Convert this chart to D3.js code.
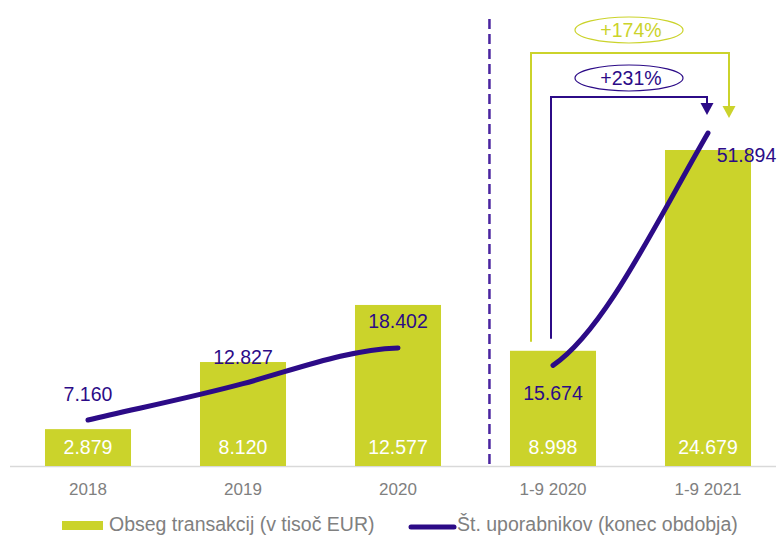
<!DOCTYPE html>
<html><head><meta charset="utf-8">
<script src="https://cdn.jsdelivr.net/npm/d3@7/dist/d3.min.js"></script>
<style>
html,body{margin:0;padding:0;background:#fff;}
svg{display:block;font-family:"Liberation Sans",Arial,sans-serif;}
</style></head>
<body>
<svg id="chart" width="778" height="536"></svg>
<script>
// ---- data ----
const categories = ["2018", "2019", "2020", "1-9 2020", "1-9 2021"];
const volume = [2879, 8120, 12577, 8998, 24679];          // Obseg transakcij (v tisoč EUR)
const users = [7160, 12827, 18402, 15674, 51894];         // Št. uporabnikov (konec obdobja)
const userSegments = [[0, 1, 2], [3, 4]];                 // the two separate line parts
const growthLabels = ["+174%", "+231%"];
const legendLabels = ["Obseg transakcij (v tisoč EUR)", "Št. uporabnikov (konec obdobja)"];
const fmt = v => d3.format(",")(v).replace(/,/g, ".");

// ---- style ----
const BAR = "#cbd32b", PURPLE = "#2c0b87", DASH = "#4a25a0", GRAY = "#808080";

const svg = d3.select("#chart");
const baseY = 466;

const x = d3.scaleBand().domain(categories).range([10.5, 785.5])
  .paddingInner(0.445).paddingOuter(0.2225);
const yBar = d3.scaleLinear().domain([0, 24679]).range([baseY, 150]);
const yLine = d3.scaleLinear().domain([0, 51894]).range([baseY, 133]);
const cx = c => x(c) + x.bandwidth() / 2;

// axis baseline
const xAxis = d3.axisBottom(x).tickSize(0).tickPadding(0);
const gAx = svg.append("g").attr("transform", `translate(0,${baseY})`).call(xAxis);
gAx.select(".domain").remove();
gAx.selectAll("text").attr("dy", 0).attr("y", 29).attr("font-size", 17)
  .attr("fill", GRAY).attr("font-family", "Liberation Sans, Arial, sans-serif");
svg.append("line").attr("x1", 10).attr("x2", 776).attr("y1", baseY + 0.5).attr("y2", baseY + 0.5)
  .attr("stroke", "#d9d9d9").attr("stroke-width", 1.5);

// bars
svg.selectAll("rect.bar").data(volume).join("rect").attr("class", "bar")
  .attr("x", (d, i) => x(categories[i])).attr("width", x.bandwidth())
  .attr("y", d => yBar(d)).attr("height", d => baseY - yBar(d)).attr("fill", BAR);

svg.selectAll("text.barlab").data(volume).join("text").attr("class", "barlab")
  .attr("x", (d, i) => cx(categories[i])).attr("y", baseY - 12)
  .attr("text-anchor", "middle").attr("font-size", 19.5).attr("fill", "#fff")
  .text(d => fmt(d));

// dashed separator
const sepX = cx("1-9 2020") - x.step() * 0.41;
svg.append("line").attr("x1", sepX).attr("x2", sepX).attr("y1", 19).attr("y2", baseY)
  .attr("stroke", DASH).attr("stroke-width", 2.5).attr("stroke-dasharray", "10,5");

// smooth user line (Hermite cubic through data points)
function hermite(pts, slopes) {
  const p = d3.path();
  p.moveTo(pts[0][0], pts[0][1]);
  for (let i = 0; i < pts.length - 1; i++) {
    const [x0, y0] = pts[i], [x1, y1] = pts[i + 1];
    const h = (x1 - x0) / 3;
    p.bezierCurveTo(x0 + h, y0 + slopes[i] * h, x1 - h, y1 - slopes[i + 1] * h, x1, y1);
  }
  return p.toString();
}
userSegments.forEach((seg, s) => {
  const pts = seg.map(i => [cx(categories[i]), yLine(users[i])]);
  const ch = [];
  for (let i = 0; i < pts.length - 1; i++) ch.push((pts[i + 1][1] - pts[i][1]) / (pts[i + 1][0] - pts[i][0]));
  let slopes;
  if (s === 0) slopes = [ch[0], (ch[0] + ch[1]) / 2 * 1.15, ch[1] * 0.15];
  else slopes = [ch[0] * 0.45, ch[0] * 1.15];
  svg.append("path").attr("d", hermite(pts, slopes)).attr("fill", "none")
    .attr("stroke", PURPLE).attr("stroke-width", 5).attr("stroke-linecap", "round");
});

// user labels
const labOff = [[0, -19.5], [0, -19.5], [0, -19.5], [0, 35], [38.5, 29]];
svg.selectAll("text.ulab").data(users).join("text").attr("class", "ulab")
  .attr("x", (d, i) => cx(categories[i]) + labOff[i][0])
  .attr("y", (d, i) => yLine(d) + labOff[i][1])
  .attr("text-anchor", "middle").attr("font-size", 19.5).attr("fill", PURPLE)
  .text(d => fmt(d));

// growth brackets
const xa = cx("1-9 2020"), xb = cx("1-9 2021");
const midX = (xa + xb) / 2 - 1.5;
function bracket(x0, x1, yTop, yStart, yTip, color, w) {
  svg.append("path").attr("d", `M${x0},${yStart}V${yTop}H${x1}V${yTip - 11}`)
    .attr("fill", "none").attr("stroke", color).attr("stroke-width", w);
  svg.append("path").attr("d", `M${x1 - 6.5},${yTip - 12}L${x1 + 6.5},${yTip - 12}L${x1},${yTip}Z`)
    .attr("fill", color);
}
bracket(xa - 22, xb + 21, 53, yBar(8998) - 9, 118, BAR, 2);
bracket(xa - 2, xb - 1, 97, yBar(8998) - 12, 115, PURPLE, 2);

const ell = [{ cy: 30, c: BAR, t: growthLabels[0] }, { cy: 78, c: PURPLE, t: growthLabels[1] }];
ell.forEach(e => {
  svg.append("ellipse").attr("cx", midX).attr("cy", e.cy).attr("rx", 54).attr("ry", 13)
    .attr("fill", "#fff").attr("stroke", e.c).attr("stroke-width", 1.2);
  svg.append("text").attr("x", midX + 2).attr("y", e.cy + 7).attr("text-anchor", "middle")
    .attr("font-size", 19.5).attr("fill", e.c).text(e.t);
});

// legend
svg.append("rect").attr("x", 62).attr("y", 521).attr("width", 41).attr("height", 9).attr("fill", BAR);
svg.append("text").attr("x", 109).attr("y", 531).attr("font-size", 19.5).attr("fill", GRAY).text(legendLabels[0]);
svg.append("line").attr("x1", 411).attr("x2", 454).attr("y1", 527).attr("y2", 527)
  .attr("stroke", PURPLE).attr("stroke-width", 5).attr("stroke-linecap", "round");
svg.append("text").attr("x", 457).attr("y", 531).attr("font-size", 19.5).attr("fill", GRAY).text(legendLabels[1]);
</script>
</body></html>
